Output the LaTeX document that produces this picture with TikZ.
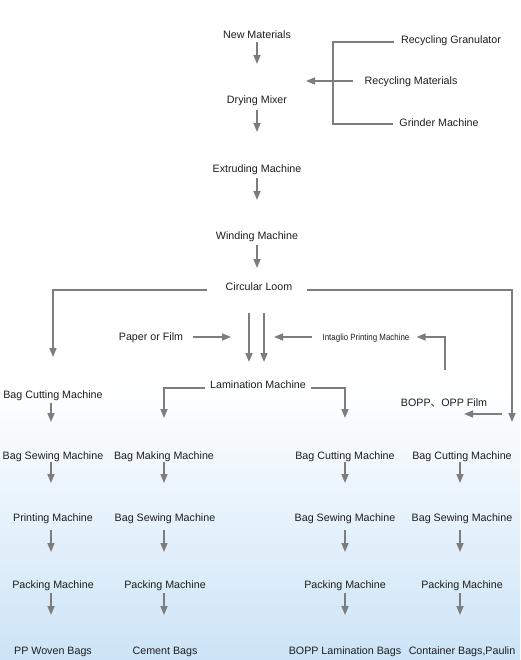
\documentclass[tikz,border=0pt]{standalone}
\usepackage{fontspec}
\setmainfont{Liberation Sans}
\newfontfamily\cjk{Noto Sans CJK SC}
\usetikzlibrary{arrows.meta}
\definecolor{txt}{RGB}{30,30,30}
\definecolor{ln}{RGB}{125,125,125}
\definecolor{bgblue}{RGB}{204,228,247}
\begin{document}
\begin{tikzpicture}[x=1pt,y=-1pt,
  lbl/.style={inner sep=0pt,text=txt,font=\fontsize{10.7}{12}\selectfont},
  conn/.style={draw=ln,line width=1.6pt},
  arr/.style={conn,-{Triangle[length=9pt,width=7pt]}}]
\useasboundingbox (0,0) rectangle (520,660);
\fill[white] (0,0) rectangle (520,385);
\shade[top color=white,bottom color=bgblue] (0,385) rectangle (520,660);
% main column
\node[lbl] (nm) at (257,35) {New Materials};
\node[lbl] (dm) at (257,101) {Drying Mixer};
\node[lbl] (em) at (257,170) {Extruding Machine};
\node[lbl] (wm) at (257,237) {Winding Machine};
\node[lbl] (cl) at (259,287) {Circular Loom};
% recycling
\node[lbl] (rg) at (451,41) {Recycling Granulator};
\node[lbl] (rm) at (411,82) {Recycling Materials};
\node[lbl] (gm) at (439,123) {Grinder Machine};
\coordinate (brk) at (333,81);
\coordinate (dmin) at (306,81);
% middle
\node[lbl] (pf) at (151,338) {Paper or Film};
\node[lbl] (ipm) at (366,338) {\fontsize{9}{10}\selectfont\scalebox{0.88}[1]{Intaglio Printing Machine}};
\node[lbl] (lm) at (258,385) {Lamination Machine};
\node[lbl] (bopp) at (444,403) {BOPP{\cjk 、}OPP Film};
\coordinate (pfin) at (231,337);
\coordinate (ipin) at (274,337);
\coordinate (rt) at (512,422);
\coordinate (bo1) at (502,414);
\coordinate (bo2) at (464,414);
% column 1
\node[lbl] (a0) at (53,396) {Bag Cutting Machine};
\node[lbl] (a1) at (53,457) {Bag Sewing Machine};
\node[lbl] (a2) at (53,519) {Printing Machine};
\node[lbl] (a3) at (53,586) {Packing Machine};
\node[lbl] (a4) at (53,652) {PP Woven Bags};
% column 2
\node[lbl] (b1) at (164,457) {Bag Making Machine};
\node[lbl] (b2) at (165,519) {Bag Sewing Machine};
\node[lbl] (b3) at (165,586) {Packing Machine};
\node[lbl] (b4) at (165,652) {Cement Bags};
% column 3
\node[lbl] (c1) at (345,457) {Bag Cutting Machine};
\node[lbl] (c2) at (345,519) {Bag Sewing Machine};
\node[lbl] (c3) at (345,586) {Packing Machine};
\node[lbl] (c4) at (345,652) {BOPP Lamination Bags};
% column 4
\node[lbl] (d1) at (462,457) {Bag Cutting Machine};
\node[lbl] (d2) at (462,519) {Bag Sewing Machine};
\node[lbl] (d3) at (462,586) {Packing Machine};
\node[lbl] (d4) at (462,652) {Container Bags,Paulin};
% main chain arrows
\draw[arr,shorten <=7pt,shorten >=37pt] (nm.center) -- (dm.center);
\draw[arr,shorten <=9pt,shorten >=38pt] (dm.center) -- (em.center);
\draw[arr,shorten <=8pt,shorten >=37pt] (em.center) -- (wm.center);
\draw[arr,shorten <=8pt,shorten >=19pt] (wm.center) -- (wm.center |- cl.center);
% recycling bracket
\draw[conn,shorten <=7pt,shorten >=6pt] ([yshift=-1pt]rg.west) -| (brk) |- ([yshift=-1pt]gm.west);
\draw[arr,shorten <=11pt] (rm.west |- dmin) -- (dmin);
% circular loom branches
\draw[arr,shorten <=19pt,shorten >=39pt] ([yshift=-3pt]cl.west) -| (a0.center);
\draw[arr,shorten <=14pt] ([yshift=-3pt]cl.east) -| (rt);
\draw[arr,shorten <=26pt,shorten >=23pt] ([xshift=-10pt]cl.center) -- ([xshift=-9pt]lm.center);
\draw[arr,shorten <=26pt,shorten >=23pt] ([xshift=5pt]cl.center) -- ([xshift=6pt]lm.center);
% side inputs
\draw[arr,shorten <=10pt] (pf.east |- pfin) -- (pfin);
\draw[arr,shorten <=10pt] (ipm.west |- ipin) -- (ipin);
\draw[arr,shorten <=29pt,shorten >=7pt] (bopp.north -| 445,0) |- (ipm.east |- ipin);
\draw[arr] (bo1) -- (bo2);
% lamination branches
\draw[arr,shorten <=5pt,shorten >=39pt] ([yshift=-3pt]lm.west) -| (b1.center);
\draw[arr,shorten <=5pt,shorten >=39pt] ([yshift=-3pt]lm.east) -| (c1.center);
% column arrows
\draw[arr,shorten <=7pt,shorten >=35pt] ([xshift=-2pt]a0.center) -- ([xshift=-2pt]a1.center);
\foreach \c/\x in {a/-2,b/0,c/0,d/-2}{
  \draw[arr,shorten <=5pt,shorten >=36pt] ([xshift=\x pt]\c1.center) -- ([xshift=\x pt]\c1.center |- \c2.center);
  \draw[arr,shorten <=11pt,shorten >=34pt] ([xshift=\x pt]\c1.center |- \c2.center) -- ([xshift=\x pt]\c1.center |- \c3.center);
  \draw[arr,shorten <=7pt,shorten >=37pt] ([xshift=\x pt]\c1.center |- \c3.center) -- ([xshift=\x pt]\c1.center |- \c4.center);
}
\end{tikzpicture}
\end{document}
